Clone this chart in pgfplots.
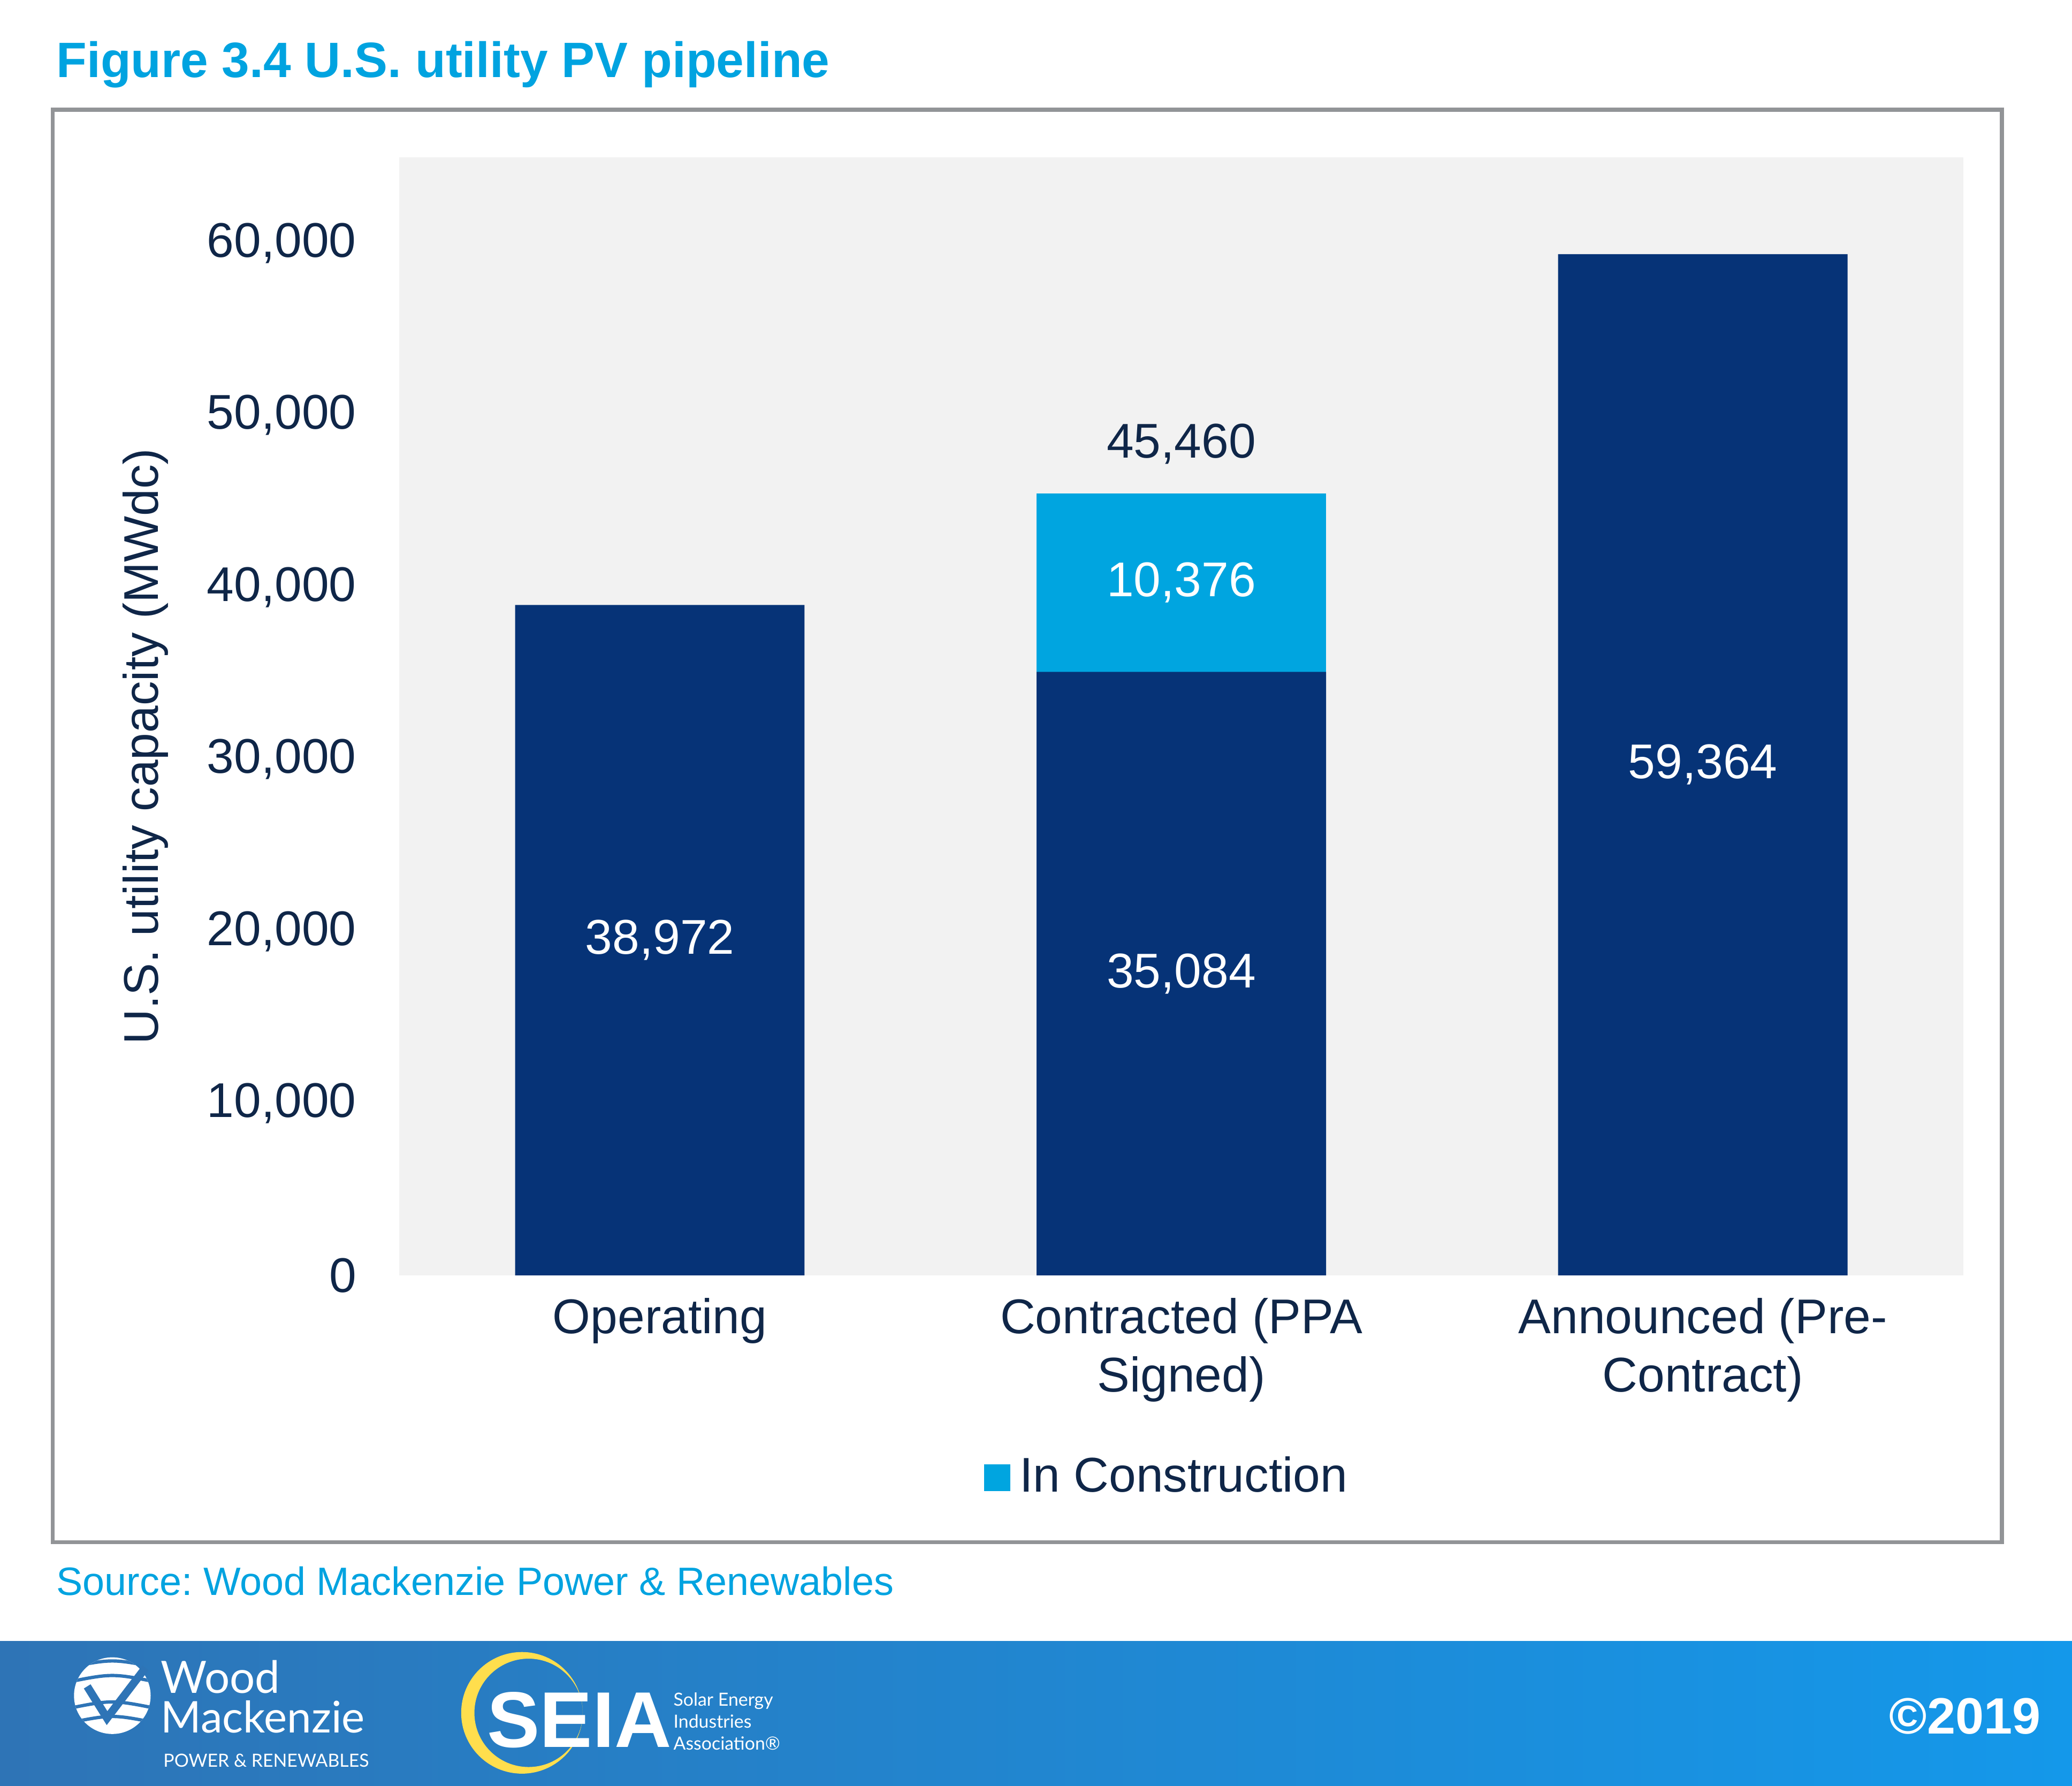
\documentclass[border=0pt]{standalone}
\usepackage{pgfplots}
\pgfplotsset{compat=1.18}
\usepackage{fontspec}
\setmainfont{Liberation Sans}
\newfontfamily\lato{Lato}
\definecolor{cDark}{RGB}{6,51,119}
\definecolor{cLight}{RGB}{0,165,224}
\definecolor{cText}{RGB}{15,38,72}
\definecolor{cTitle}{RGB}{0,163,224}
\definecolor{cBg}{RGB}{242,242,242}
\definecolor{cFrame}{RGB}{146,148,151}
\definecolor{cBandL}{RGB}{46,116,182}
\definecolor{cBandR}{RGB}{20,152,234}
\definecolor{cYel}{RGB}{255,222,77}
\newcommand\fs{\fontsize{10.5}{12.5}\selectfont}
\frenchspacing
\begin{document}
\begin{tikzpicture}
\begin{scope}[x=0.1mm,y=-0.1mm]
\fill[white] (0,0) rectangle (1568,1351);
\draw[cFrame, line width=0.3mm] (40,83) rectangle (1515,1167);
\node[anchor=base west, inner sep=0, text=cTitle, font=\fontsize{10.7}{12.5}\selectfont\bfseries] at (42,58.5) {Figure 3.4 U.S. utility PV pipeline};
\node[anchor=base west, inner sep=0, text=cTitle, font=\fontsize{8.5}{10}\selectfont] at (42,1207) {Source: Wood Mackenzie Power \& Renewables};
\shade[left color=cBandL, right color=cBandR] (0,1242) rectangle (1568,1351);
% Wood Mackenzie logo
\fill[white] (85,1283) circle (29);
\begin{scope}
\clip (85,1283) circle (29);
\foreach \yy in {1262,1273,1293,1304}
  \draw[cBandL, line width=0.25mm] (50,\yy) .. controls (85,\yy-7) .. (120,\yy);
\end{scope}
\draw[cBandL, line width=0.6mm] (66,1276) -- (81,1300) -- (110,1262);
\node[anchor=base west, inner sep=0, text=white, font=\lato\fontsize{9.6}{10}\selectfont] at (121,1281) {Wood};
\node[anchor=base west, inner sep=0, text=white, font=\lato\fontsize{9.4}{10}\selectfont] at (121,1311) {Mackenzie};
\node[anchor=base west, inner sep=0, text=white, font=\lato\fontsize{3.9}{5}\selectfont] at (123,1337) {POWER \& RENEWABLES};
% SEIA logo
\fill[cYel, even odd rule] (395,1296) circle (46) (400,1296) circle (41);
\node[anchor=base west, inner sep=0, text=white, font=\bfseries\fontsize{17}{18}\selectfont] at (368,1322) {SEIA};
\node[anchor=base west, inner sep=0, text=white, align=left, font=\lato\fontsize{3.9}{4.7}\selectfont] at (509,1324) {Solar Energy\\Industries\\Association®};
\node[anchor=base east, inner sep=0, text=white, font=\bfseries\fontsize{11}{12}\selectfont] at (1545,1312) {©2019};
\end{scope}
\begin{axis}[
 at={(30.2mm,-96.5mm)}, anchor=south west,
 scale only axis, width=118.4mm, height=84.6mm,
 xmin=-0.5, xmax=2.5, ymin=0, ymax=65000,
 axis background/.style={fill=cBg},
 axis line style={draw=none},
 tick style={draw=none},
 xtick={0,1,2},
 xticklabels={Operating,{Contracted (PPA\\Signed)},{Announced (Pre-\\Contract)}},
 xticklabel style={align=center, text=cText, font=\fs, yshift=-0.5mm},
 ytick={0,10000,...,60000},
 scaled y ticks=false,
 yticklabel style={text=cText, font=\fs, xshift=-2mm, /pgf/number format/.cd, fixed, 1000 sep={,}, assume math mode=true},
 ylabel={U.S. utility capacity (MWdc)},
 ylabel style={at={(axis description cs:-0.162,0.473)}, anchor=center, text=cText, font=\fs},
 legend style={at={(axis description cs:0.493,-0.181)}, anchor=center, draw=none, fill=none, font=\fs, text=cText},
]
\addplot[ybar, bar width=0.555, bar shift=0pt, fill=cLight, draw=none,
  legend image code/.code={\fill[cLight] (-0.3mm,-1mm) rectangle (1.7mm,1mm);}]
  coordinates {(1,45460)};
\addlegendentry{In Construction}
\addplot[ybar, bar width=0.555, bar shift=0pt, fill=cDark, draw=none, forget plot]
  coordinates {(0,38972) (1,35084) (2,59364)};
\addplot[draw=none, mark=none, forget plot, nodes near coords, point meta=explicit symbolic,
  nodes near coords style={anchor=center, text=white, font=\fs}]
  coordinates {(0,19486) [{38,972}] (1,17542) [{35,084}] (1,40272) [{10,376}] (2,29682) [{59,364}]};
\addplot[draw=none, mark=none, forget plot, nodes near coords, point meta=explicit symbolic,
  nodes near coords style={anchor=center, text=cText, font=\fs}]
  coordinates {(1,48330) [{45,460}]};
\end{axis}
\end{tikzpicture}
\end{document}
